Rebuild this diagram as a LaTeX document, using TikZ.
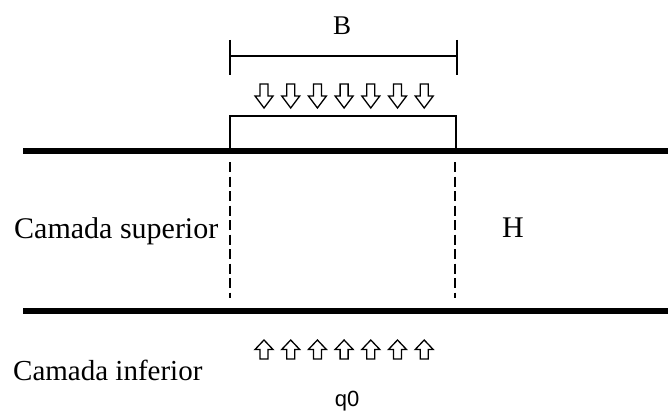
\documentclass[tikz,border=0pt]{standalone}
\usepackage{fontspec}
\setmainfont{Liberation Serif}
\newfontfamily\qfont{Liberation Sans}
\begin{document}
\begin{tikzpicture}[x=1pt,y=-1pt,
  thin line/.style={line width=1.4pt},
  thick line/.style={line width=5.5pt},
  dash line/.style={line width=1.4pt, dash pattern=on 10pt off 4.5pt},
  label/.style={inner sep=0pt, font=\fontsize{30}{36}\selectfont},
  downarr/.pic={\draw[line width=1.3pt, line join=miter] (-4,0) -- (4,0) -- (4,12) -- (9,12) -- (0,24) -- (-9,12) -- (-4,12) -- cycle;},
  uparr/.pic={\draw[line width=1.3pt, line join=miter] (0,0) -- (9,9.5) -- (4,9.5) -- (4,19) -- (-4,19) -- (-4,9.5) -- (-9,9.5) -- cycle;}
]
\useasboundingbox (0,0) rectangle (668,412);
% dimension B
\coordinate (bl) at (230,56);
\coordinate (br) at (457,56);
\draw[thin line] (bl) -- (br);
\draw[thin line] (230,40) -- (230,75);
\draw[thin line] (457,40) -- (457,75);
\node[label, font=\fontsize{27}{32}\selectfont, anchor=base] (B) at (342,35) {B};
% down arrows
\foreach \i in {0,...,6} {
  \pic at ({264+26.7*\i},84) {downarr};
}
% footing
\draw[thin line] (230,151) -- (230,116) -- (456,116) -- (456,151);
% layer boundaries
\coordinate (t1) at (23,151);
\coordinate (t2) at (668,151);
\coordinate (u1) at (23,311);
\coordinate (u2) at (668,311);
\draw[thick line] (t1) -- (t2);
\draw[thick line] (u1) -- (u2);
% dashed lines
\draw[dash line] (230,162) -- (230,298);
\draw[dash line] (455,162) -- (455,298);
% labels
\node[label, anchor=base west] (sup) at (14,238) {Camada superior};
\node[label, anchor=base] (H) at (513,237) {H};
\node[label, font=\fontsize{29}{34}\selectfont, anchor=base west] (inf) at (13,380) {Camada inferior};
% up arrows
\foreach \i in {0,...,6} {
  \pic at ({264+26.7*\i},340) {uparr};
}
\node[label, font=\qfont\fontsize{22}{26}\selectfont, anchor=base] (q0) at (347,406) {q0};
\end{tikzpicture}
\end{document}
